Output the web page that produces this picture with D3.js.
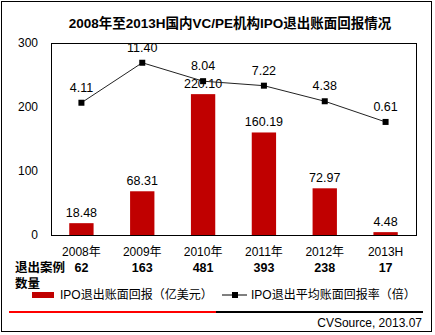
<!DOCTYPE html>
<html>
<head>
<meta charset="utf-8">
<script src="https://cdn.jsdelivr.net/npm/d3@7/dist/d3.min.js"></script>
<style>
  body { margin: 0; background: #fff; }
  text { font-family: "Liberation Sans", Arial, sans-serif; }
  .cjk { font-family: "Liberation Sans", "Noto Sans CJK SC", sans-serif; }
</style>
</head>
<body>
<div id="chart"></div>
<script>
var years = ["2008年", "2009年", "2010年", "2011年", "2012年", "2013H"];
var returns = [18.48, 68.31, 220.10, 160.19, 72.97, 4.48];        // 亿美元
var multiples = [4.11, 11.40, 8.04, 7.22, 4.38, 0.61];            // 倍
var exitCases = [62, 163, 481, 393, 238, 17];
var yTicks = [0, 100, 200, 300];

var width = 435, height = 335;
var plot = {left: 51, top: 43, right: 416, bottom: 235};

var svg = d3.select("#chart").append("svg")
    .attr("width", width)
    .attr("height", height);

// outer frame
svg.append("rect")
    .attr("x", 1.5).attr("y", 1.5)
    .attr("width", 430).attr("height", 330)
    .attr("fill", "none").attr("stroke", "#000");

svg.append("text")
    .attr("class", "cjk")
    .attr("x", 230).attr("y", 28)
    .attr("text-anchor", "middle")
    .attr("font-size", "13.5px")
    .attr("font-weight", "bold")
    .text("2008年至2013H国内VC/PE机构IPO退出账面回报情况");

var x = d3.scaleBand()
    .domain(years)
    .range([plot.left, plot.right])
    .paddingInner(0.6)
    .paddingOuter(0.3);

var y = d3.scaleLinear().domain([0, 300]).range([plot.bottom, plot.top]);
// hidden secondary axis for the multiple line
var y2 = d3.scaleLinear().domain([-20, 15]).range([plot.bottom, plot.top]);

var cx = function(d) { return x(d) + x.bandwidth() / 2; };

// y axis labels
svg.append("g").selectAll("text")
    .data(yTicks)
    .enter().append("text")
    .attr("x", 38)
    .attr("y", function(d) { return y(d) + 4; })
    .attr("text-anchor", "end")
    .attr("font-size", "12px")
    .text(function(d) { return d; });

// bars
svg.append("g").selectAll("rect")
    .data(returns)
    .enter().append("rect")
    .attr("x", function(d, i) { return x(years[i]); })
    .attr("width", x.bandwidth())
    .attr("y", function(d) { return y(d); })
    .attr("height", function(d) { return y(0) - y(d); })
    .attr("fill", "#c00000");

svg.append("g").selectAll("text")
    .data(returns)
    .enter().append("text")
    .attr("x", function(d, i) { return cx(years[i]); })
    .attr("y", function(d) { return y(d) - 6; })
    .attr("text-anchor", "middle")
    .attr("font-size", "12.5px")
    .text(function(d) { return d.toFixed(2); });

// line
var line = d3.line()
    .x(function(d, i) { return cx(years[i]); })
    .y(function(d) { return y2(d); });

svg.append("path")
    .datum(multiples)
    .attr("d", line)
    .attr("fill", "none")
    .attr("stroke", "#222")
    .attr("stroke-width", 1);

svg.append("g").selectAll("rect")
    .data(multiples)
    .enter().append("rect")
    .attr("x", function(d, i) { return cx(years[i]) - 3; })
    .attr("y", function(d) { return y2(d) - 3; })
    .attr("width", 6).attr("height", 6)
    .attr("fill", "#000");

svg.append("g").selectAll("text")
    .data(multiples)
    .enter().append("text")
    .attr("x", function(d, i) { return cx(years[i]); })
    .attr("y", function(d) { return y2(d) - 11; })
    .attr("text-anchor", "middle")
    .attr("font-size", "12.5px")
    .text(function(d) { return d.toFixed(2); });

// plot frame
svg.append("rect")
    .attr("x", plot.left + 0.5).attr("y", plot.top + 0.5)
    .attr("width", plot.right - plot.left).attr("height", plot.bottom - plot.top)
    .attr("fill", "none").attr("stroke", "#000");

// category labels
svg.append("g").selectAll("text")
    .data(years)
    .enter().append("text")
    .attr("class", "cjk")
    .attr("x", function(d) { return cx(d); })
    .attr("y", 256)
    .attr("text-anchor", "middle")
    .attr("font-size", "12px")
    .text(function(d) { return d; });

// exit case counts
svg.append("text")
    .attr("class", "cjk")
    .attr("x", 15).attr("y", 272)
    .attr("font-size", "12.5px").attr("font-weight", "bold")
    .text("退出案例");
svg.append("text")
    .attr("class", "cjk")
    .attr("x", 15).attr("y", 288)
    .attr("font-size", "12.5px").attr("font-weight", "bold")
    .text("数量");

svg.append("g").selectAll("text")
    .data(exitCases)
    .enter().append("text")
    .attr("x", function(d, i) { return cx(years[i]); })
    .attr("y", 272)
    .attr("text-anchor", "middle")
    .attr("font-size", "12.5px")
    .attr("font-weight", "bold")
    .text(function(d) { return d; });

// legend
var legend = svg.append("g");
legend.append("rect")
    .attr("x", 32).attr("y", 292)
    .attr("width", 22).attr("height", 6)
    .attr("fill", "#c00000");
legend.append("text")
    .attr("class", "cjk")
    .attr("x", 60).attr("y", 299)
    .attr("font-size", "12px")
    .text("IPO退出账面回报（亿美元）");
legend.append("line")
    .attr("x1", 222).attr("x2", 247)
    .attr("y1", 295).attr("y2", 295)
    .attr("stroke", "#000");
legend.append("rect")
    .attr("x", 232).attr("y", 292)
    .attr("width", 6).attr("height", 6)
    .attr("fill", "#000");
legend.append("text")
    .attr("class", "cjk")
    .attr("x", 251).attr("y", 299)
    .attr("font-size", "12px")
    .text("IPO退出平均账面回报率（倍）");

// footer rule and source
svg.append("line")
    .attr("x1", 9).attr("x2", 216).attr("y1", 312).attr("y2", 312)
    .attr("stroke", "#ff0000").attr("stroke-width", 2);
svg.append("line")
    .attr("x1", 216).attr("x2", 423).attr("y1", 312).attr("y2", 312)
    .attr("stroke", "#000").attr("stroke-width", 2);
svg.append("text")
    .attr("x", 422).attr("y", 327)
    .attr("text-anchor", "end")
    .attr("font-size", "12px")
    .text("CVSource, 2013.07");
</script>
</body>
</html>
